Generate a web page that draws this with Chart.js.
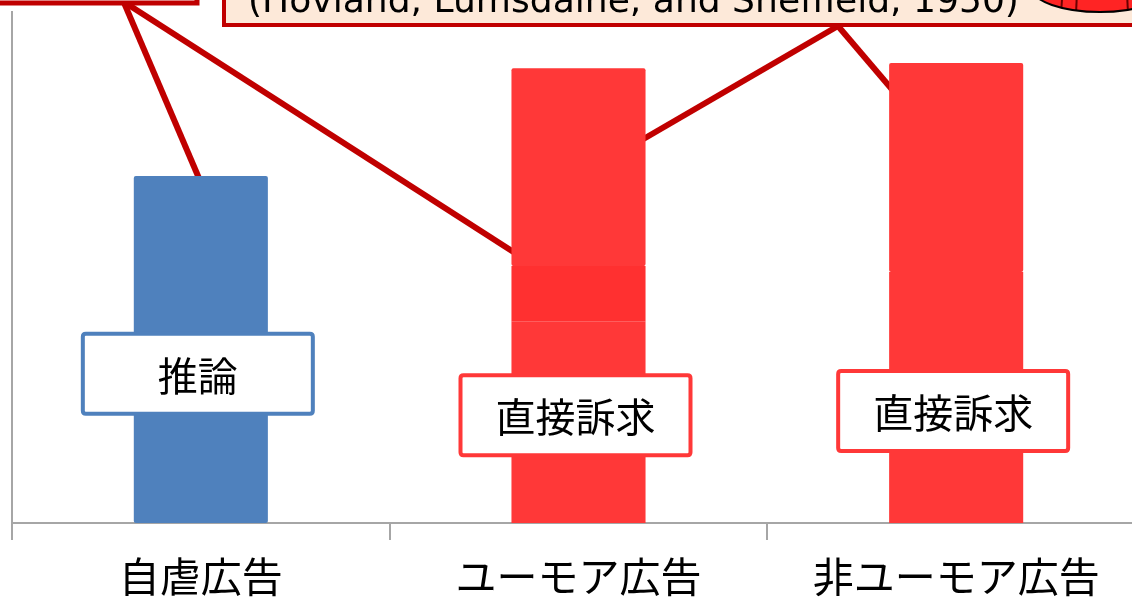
<!DOCTYPE html>
<html>
<head>
<meta charset="utf-8">
<script src="https://cdn.jsdelivr.net/npm/chart.js@4.4.1/dist/chart.umd.min.js"></script>
<style>
    html, body { margin: 0; padding: 0; background: #fff; overflow: hidden; }
    #wrap { width: 1160px; height: 599px; }
</style>
</head>
<body>
<div id="wrap"><canvas id="adChart" width="1160" height="599"></canvas></div>
<script>
// Data (y scale 0-100, axis has no tick labels)
const categories = ['自虐広告', 'ユーモア広告', '非ユーモア広告'];
const selfDeprecating = [67.9, null, null];
const redBase = [null, 39.5, 49.1];
const redMiddle = [null, 10.8, null];
const redTop = [null, 38.7, 40.9];
const boxLabels = ['推論', '直接訴求', '直接訴求'];
const citation = '(Hovland, Lumsdaine, and Sheffield, 1950)';

const colors = {
    blue: '#4F81BD',
    red: '#FF3838',
    redDark: '#FF3030',
    darkRed: '#C00000',
    peach: '#FDE9D9',
    axis: '#A6A6A6'
};

const cjkFont = '"Noto Sans CJK JP", "Noto Sans CJK SC", sans-serif';

function roundRect(ctx, x, y, w, h, r) {
    ctx.beginPath();
    ctx.moveTo(x + r, y);
    ctx.lineTo(x + w - r, y);
    ctx.quadraticCurveTo(x + w, y, x + w, y + r);
    ctx.lineTo(x + w, y + h - r);
    ctx.quadraticCurveTo(x + w, y + h, x + w - r, y + h);
    ctx.lineTo(x + r, y + h);
    ctx.quadraticCurveTo(x, y + h, x, y + h - r);
    ctx.lineTo(x, y + r);
    ctx.quadraticCurveTo(x, y, x + r, y);
    ctx.closePath();
}

// Connector lines drawn under the bars, callouts and label boxes over them
const calloutPlugin = {
    id: 'callouts',
    beforeDatasetsDraw(chart) {
        const ctx = chart.ctx;
        const segs = [
            [122, -2, 204, 190],
            [124, 2, 540, 269],
            [838, 26, 640, 141],
            [838, 26, 930, 134]
        ];
        ctx.save();
        ctx.strokeStyle = colors.darkRed;
        ctx.lineWidth = 6;
        segs.forEach(s => {
            ctx.beginPath();
            ctx.moveTo(s[0], s[1]);
            ctx.lineTo(s[2], s[3]);
            ctx.stroke();
        });
        ctx.restore();
    },
    afterDatasetsDraw(chart) {
        const ctx = chart.ctx;
        const x = chart.scales.x;
        const y = chart.scales.y;
        const anchors = [29.2, 21.1, 21.9];
        const borders = [colors.blue, colors.red, colors.red];

        ctx.save();
        // label boxes on the bars
        boxLabels.forEach((txt, i) => {
            const cx = x.getPixelForValue(i) - 3;
            const cy = y.getPixelForValue(anchors[i]);
            const w = 230, h = 80;
            roundRect(ctx, cx - w / 2, cy - h / 2, w, h, 3);
            ctx.fillStyle = '#fff';
            ctx.fill();
            ctx.lineWidth = 4;
            ctx.strokeStyle = borders[i];
            ctx.stroke();
            ctx.fillStyle = '#000';
            ctx.font = '40px ' + cjkFont;
            ctx.textAlign = 'center';
            ctx.textBaseline = 'middle';
            ctx.fillText(txt, cx, cy + 2);
        });

        // top-left callout box (mostly off the picture)
        ctx.fillStyle = '#fff';
        ctx.fillRect(-20, -40, 217, 43);
        ctx.lineWidth = 5;
        ctx.strokeStyle = colors.darkRed;
        ctx.strokeRect(-20, -40, 217, 43);

        // top-centre citation box
        ctx.fillStyle = colors.peach;
        ctx.fillRect(224, -60, 1000, 85);
        ctx.lineWidth = 4;
        ctx.strokeStyle = colors.darkRed;
        ctx.strokeRect(224, -60, 1000, 85);

        ctx.fillStyle = '#000';
        ctx.textAlign = 'left';
        ctx.textBaseline = 'alphabetic';
        let fs = 32;
        ctx.font = fs + 'px "DejaVu Sans", sans-serif';
        fs = fs * 772 / ctx.measureText(citation).width;
        ctx.font = fs.toFixed(1) + 'px "DejaVu Sans", sans-serif';
        ctx.fillText(citation, 248, 12);

        // red ellipse at the top right
        ctx.beginPath();
        ctx.ellipse(1100, -12, 68, 24, 0, 0, Math.PI * 2);
        ctx.fillStyle = '#FF2424';
        ctx.fill();
        ctx.save();
        ctx.clip();
        ctx.strokeStyle = '#6a0000';
        ctx.lineWidth = 2;
        [[1064, 1061], [1078, 1076], [1126, 1128]].forEach(p => {
            ctx.beginPath();
            ctx.moveTo(p[0], -30);
            ctx.lineTo(p[1], 14);
            ctx.stroke();
        });
        ctx.restore();
        ctx.beginPath();
        ctx.ellipse(1100, -12, 68, 24, 0, 0, Math.PI * 2);
        ctx.lineWidth = 2;
        ctx.strokeStyle = '#000';
        ctx.stroke();
        ctx.restore();
    }
};

const barCommon = {
    barPercentage: 0.355,
    categoryPercentage: 1,
    borderRadius: 2,
    borderSkipped: false
};

new Chart(document.getElementById('adChart'), {
    type: 'bar',
    data: {
        labels: categories,
        datasets: [
            { label: '自虐広告', data: selfDeprecating, backgroundColor: colors.blue, ...barCommon },
            { label: 'base', data: redBase, backgroundColor: colors.red, ...barCommon },
            { label: 'middle', data: redMiddle, backgroundColor: colors.redDark, ...barCommon },
            { label: 'top', data: redTop, backgroundColor: colors.red, ...barCommon }
        ]
    },
    options: {
        responsive: false,
        animation: false,
        layout: { padding: { top: 12, right: 15, left: 0, bottom: 0 } },
        plugins: {
            legend: { display: false },
            tooltip: { enabled: false }
        },
        scales: {
            x: {
                stacked: true,
                grid: {
                    display: true,
                    drawOnChartArea: false,
                    drawTicks: true,
                    tickLength: 17,
                    color: colors.axis,
                    lineWidth: 2,
                    offset: true
                },
                border: { display: true, color: colors.axis, width: 2 },
                ticks: {
                    color: '#000',
                    padding: 12,
                    font: { family: cjkFont, size: 41 }
                },
                afterFit(scale) { scale.height = 76; }
            },
            y: {
                stacked: true,
                min: 0,
                max: 100,
                grid: { display: false, drawTicks: false },
                border: { display: true, color: colors.axis, width: 2 },
                ticks: { display: false },
                afterFit(scale) { scale.width = 12; }
            }
        }
    },
    plugins: [calloutPlugin]
});
</script>
</body>
</html>
